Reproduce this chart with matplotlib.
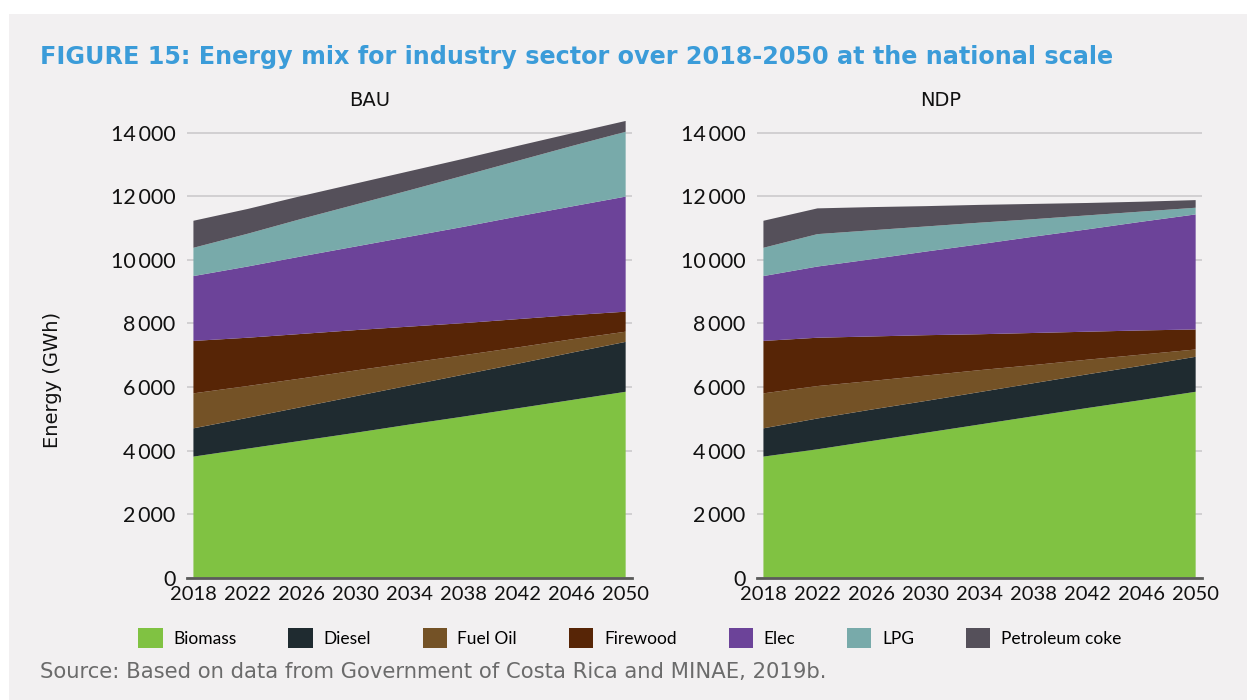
import matplotlib.pyplot as plt
from matplotlib.patches import Patch
from matplotlib.ticker import FuncFormatter

years = [2018, 2022, 2026, 2030, 2034, 2038, 2042, 2046, 2050]
fuels = ["Biomass", "Diesel", "Fuel Oil", "Firewood", "Elec", "LPG", "Petroleum coke"]
colors = ["#80c242", "#1f2b30", "#745226", "#572506", "#6c4399", "#78aaaa", "#55505a"]

# GWh per fuel, BAU scenario
bau_biomass = [3810, 4060, 4310, 4560, 4820, 5070, 5330, 5590, 5850]
bau_diesel = [890, 970, 1060, 1150, 1230, 1320, 1400, 1490, 1570]
bau_fuel_oil = [1100, 1000, 900, 810, 710, 610, 515, 420, 320]
bau_firewood = [1650, 1520, 1400, 1270, 1140, 1010, 890, 760, 630]
bau_elec = [2040, 2240, 2440, 2630, 2830, 3030, 3230, 3420, 3620]
bau_lpg = [890, 1030, 1180, 1320, 1460, 1610, 1750, 1900, 2040]
bau_petcoke = [850, 780, 720, 660, 600, 530, 470, 400, 340]

# GWh per fuel, NDP scenario
ndp_biomass = [3810, 4040, 4300, 4560, 4820, 5080, 5340, 5590, 5850]
ndp_diesel = [890, 970, 990, 1000, 1020, 1040, 1060, 1080, 1100]
ndp_fuel_oil = [1100, 1020, 900, 800, 690, 570, 460, 350, 230]
ndp_firewood = [1650, 1520, 1400, 1270, 1130, 1010, 880, 760, 630]
ndp_elec = [2040, 2240, 2430, 2630, 2830, 3030, 3220, 3420, 3620]
ndp_lpg = [890, 1020, 910, 790, 680, 550, 440, 320, 210]
ndp_petcoke = [850, 810, 730, 640, 560, 480, 390, 310, 240]

bau = [bau_biomass, bau_diesel, bau_fuel_oil, bau_firewood, bau_elec, bau_lpg, bau_petcoke]
ndp = [ndp_biomass, ndp_diesel, ndp_fuel_oil, ndp_firewood, ndp_elec, ndp_lpg, ndp_petcoke]

bg = "#f2f0f1"
plt.rcParams["font.family"] = ["Lato", "DejaVu Sans"]

fig = plt.figure(figsize=(12.47, 7), dpi=100, facecolor="white")
fig.patches.append(plt.Rectangle((9 / 1247, 0), 1, 1 - 14 / 700, transform=fig.transFigure,
                                 facecolor=bg, edgecolor="none", zorder=-10))

fmt = FuncFormatter(lambda v, p: "0" if v == 0 else f"{int(v):,}".replace(",", "\u2009"))

panels = [("BAU", bau, 0.1497, 370), ("NDP", ndp, 0.6068, 941)]
for title, series, left, title_x in panels:
    ax = fig.add_axes([left, 0.1747, 0.3569, 0.6584])
    ax.set_facecolor(bg)
    ax.stackplot(years, series, colors=colors, linewidth=0)
    ax.set_xlim(2017.5, 2050.45)
    ax.set_ylim(0, 14500)
    ax.set_xticks(years)
    ax.set_yticks(range(0, 14001, 2000))
    ax.yaxis.set_major_formatter(fmt)
    ax.grid(axis="y", color="#cfcdcf", linewidth=1.3)
    ax.set_axisbelow(True)
    for s in ["top", "right", "left"]:
        ax.spines[s].set_visible(False)
    ax.spines["bottom"].set_color("#5a5a5a")
    ax.spines["bottom"].set_linewidth(2)
    ax.spines["bottom"].set_zorder(5)
    ax.tick_params(length=0, colors="#111111")
    ax.tick_params(axis="y", pad=8, labelsize=15.5)
    ax.tick_params(axis="x", pad=6, labelsize=14.5)
    fig.text(title_x / 1247, 1 - 100 / 700, title, fontsize=14, family="DejaVu Sans",
             ha="center", va="center", color="#111111")

fig.text(52 / 1247, 1 - 380 / 700, "Energy (GWh)", rotation=90, fontsize=14, family="DejaVu Sans",
         ha="center", va="center", color="#111111")
fig.text(40 / 1247, 1 - 57 / 700, "FIGURE 15: Energy mix for industry sector over 2018-2050 at the national scale",
         fontsize=17.2, fontweight="bold", family="DejaVu Sans", color="#3b9cd9", ha="left", va="center")
fig.text(40 / 1247, 1 - 672 / 700, "Source: Based on data from Government of Costa Rica and MINAE, 2019b.",
         fontsize=15.2, family="DejaVu Sans", color="#6b6b6b", ha="left", va="center")

handles = [Patch(facecolor=c, edgecolor="none") for c in colors]
fig.legend(handles, fuels, loc="center", bbox_to_anchor=(0.505, 1 - 638 / 700), ncol=7, frameon=False,
           fontsize=12.5, handlelength=1.4, handleheight=1.4, handletextpad=0.6, columnspacing=3.0)

fig.savefig("out.png", dpi=100, facecolor="white")
